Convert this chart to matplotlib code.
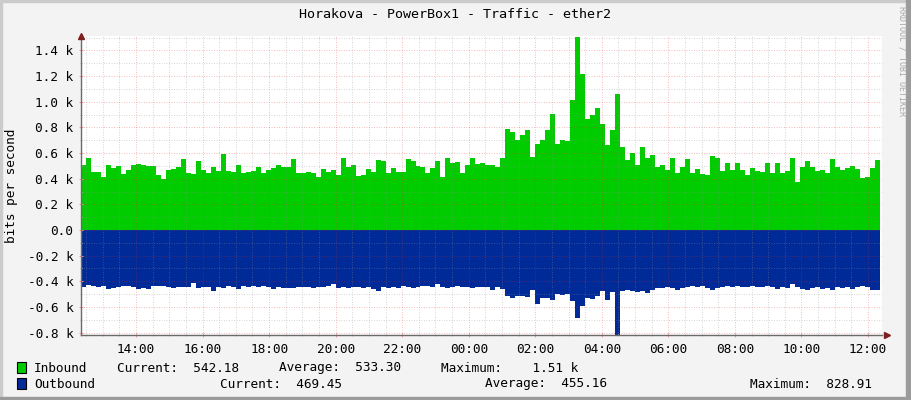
import matplotlib.pyplot as plt
import numpy as np
from matplotlib.patches import Rectangle
from matplotlib.ticker import FixedLocator, MultipleLocator, FuncFormatter

# Data (bits per second), one sample every 9 minutes starting 12:21
inbound = [
    506, 558, 454, 449, 410, 506, 480, 498, 436, 467, 508, 511, 506, 498, 500, 428,
    397, 467, 477, 493, 550, 441, 433, 540, 467, 446, 488, 462, 591, 462, 454, 506,
    441, 454, 462, 493, 441, 467, 480, 506, 493, 493, 550, 446, 446, 451, 441, 410,
    472, 454, 467, 428, 558, 493, 506, 420, 428, 472, 454, 545, 540, 446, 480, 454,
    449, 550, 540, 498, 493, 441, 480, 540, 415, 563, 524, 532, 441, 506, 558, 513,
    519, 506, 506, 493, 558, 791, 765, 700, 739, 778, 571, 674, 700, 778, 907, 674,
    700, 695, 1011, 1509, 1219, 869, 895, 955, 830, 661, 778, 1058, 648, 545, 597, 506,
    648, 558, 584, 493, 506, 467, 565, 446, 493, 550, 441, 472, 436, 428, 576, 565,
    462, 524, 467, 519,
    467, 428, 485, 462, 454, 519, 441, 519, 441, 462, 558, 376, 493, 540, 493, 462,
    467, 441, 550, 493, 467, 480, 498, 472, 402, 410, 480, 542,
]
outbound = [
    441, 428, 436, 441, 436, 459, 454, 441, 436, 433, 441, 462, 454, 462, 433, 436,
    433, 441, 454, 441, 446, 441, 410, 454, 441, 441, 472, 441, 454, 433, 441, 459,
    436, 441, 433, 441, 436, 441, 459, 441, 454, 449, 454, 441, 441, 441, 454, 441,
    441, 433, 420, 454, 441, 454, 441, 441, 454, 441, 459, 472, 441, 454, 441, 454,
    433, 441, 454, 441, 436, 433, 441, 420, 441, 454, 441, 436, 441, 441, 454, 441,
    441, 441, 467, 441, 462, 513, 531, 518, 518, 524, 467, 576, 531, 531, 544, 498,
    506, 498, 557, 687, 596, 531, 539, 518, 472, 549, 480, 829, 472, 467, 472, 480,
    472, 493, 467, 454, 454, 441, 454, 467, 454, 441, 436, 441, 436, 454, 467, 454,
    441, 436, 441, 436,
    441, 441, 436, 441, 441, 436, 441, 462, 441, 454, 420, 441, 459, 467, 454, 441,
    462, 454, 467, 441, 454, 441, 459, 441, 433, 441, 467, 469,
]
hour_ticks = [14, 16, 18, 20, 22, 24, 26, 28, 30, 32, 34, 36]
title = "Horakova - PowerBox1 - Traffic - ether2"

W, H = 911, 400
fig = plt.figure(figsize=(W / 100, H / 100), dpi=100)
fig.patch.set_facecolor('#F3F3F3')
mono = 'DejaVu Sans Mono'

# 3D-ish frame around the image
fig.patches.append(Rectangle((0, 1 - 2 / H), 1, 2 / H, transform=fig.transFigure, color='#CBCBCB', zorder=0))
fig.patches.append(Rectangle((0, 0), 2 / W, 1, transform=fig.transFigure, color='#CBCBCB', zorder=0))
fig.patches.append(Rectangle((1 - 5 / W, 0), 5 / W, 1, transform=fig.transFigure, color='#9B9B9B', zorder=0))
fig.patches.append(Rectangle((0, 0), 1, 3 / H, transform=fig.transFigure, color='#9B9B9B', zorder=0))

ax = fig.add_axes([81 / W, 1 - 335 / H, 801 / W, 299 / H])
ax.set_facecolor('white')

n = len(inbound)
dt = 24 / n
t = 12.35 + np.arange(n + 1) * dt
inb = np.append(inbound, inbound[-1])
outb = -np.append(outbound, outbound[-1])

ax.fill_between(t, 0, inb, step='post', color='#00CC00', lw=0, zorder=1)
ax.fill_between(t, 0, outb, step='post', color='#002A97', lw=0, zorder=1)

ax.set_xlim(12.347, 36.42)
ax.set_ylim(-819, 1513)

# grid over the data, like rrdtool
ax.xaxis.set_major_locator(FixedLocator(hour_ticks))
ax.xaxis.set_minor_locator(MultipleLocator(0.5))
ax.yaxis.set_major_locator(MultipleLocator(200))
ax.yaxis.set_minor_locator(MultipleLocator(100))
ax.set_axisbelow(False)
ax.grid(which='minor', color='#8F8F8F', alpha=0.35, lw=0.72, ls=(0, (1, 1.5)), zorder=3)
ax.grid(which='major', color='#DE3030', alpha=0.3, lw=0.72, ls=(0, (1, 1.5)), zorder=3)

ax.xaxis.set_major_formatter(FuncFormatter(lambda v, p: f"{int(v) % 24:02d}:00"))
ax.yaxis.set_major_formatter(FuncFormatter(
    lambda v, p: "0.0" if abs(v) < 1 else f"{v / 1000:.1f} k"))
ax.tick_params(which='major', length=3, width=0.8, color='#EDA0A0', direction='inout',
               labelsize=9.2, pad=4)
ax.tick_params(which='minor', length=2, width=0.8, color='#CCCCCC', direction='inout')
for lab in ax.get_xticklabels() + ax.get_yticklabels():
    lab.set_fontfamily(mono)

for s in ['top', 'right']:
    ax.spines[s].set_visible(False)
for s in ['left', 'bottom']:
    ax.spines[s].set_color('#6A6A6A')
    ax.spines[s].set_linewidth(1.0)
    ax.spines[s].set_zorder(4)

# arrows
ax.plot([0], [1.0], marker='^', ms=5, color='#7F1F1F', transform=ax.transAxes, clip_on=False, zorder=5)
ax.plot([1 + 5 / 801], [0], marker='>', ms=5, color='#7F1F1F', transform=ax.transAxes, clip_on=False, zorder=5)

fig.text(12 / W, 1 - 186 / H, "bits per second", rotation=90, ha='center', va='center',
         fontfamily=mono, fontsize=9.2)

fig.text(455 / W, 1 - 14 / H, title, ha='center', va='center', fontfamily=mono, fontsize=9.6)
fig.text(902 / W, 1 - 6 / H, "RRDTOOL / TOBI OETIKER", rotation=270, ha='center', va='top',
         fontfamily=mono, fontsize=6, color='#A8A8A8')

# legend
fig.patches.append(Rectangle((17 / W, 1 - 373 / H), 9 / W, 11 / H, transform=fig.transFigure,
                             facecolor='#00CC00', edgecolor='black', lw=0.8))
fig.patches.append(Rectangle((17 / W, 1 - 389 / H), 9 / W, 11 / H, transform=fig.transFigure,
                             facecolor='#002A97', edgecolor='black', lw=0.8))
row1 = [(34, "Inbound"), (117, "Current:  542.18"), (279, "Average:  533.30"), (441, "Maximum:    1.51 k")]
row2 = [(34, "Outbound"), (220, "Current:  469.45"), (485, "Average:  455.16"), (750, "Maximum:  828.91")]
for x, s in row1:
    fig.text(x / W, 1 - 368 / H, s, ha='left', va='center', fontfamily=mono, fontsize=9.2)
for x, s in row2:
    fig.text(x / W, 1 - 384 / H, s, ha='left', va='center', fontfamily=mono, fontsize=9.2)

fig.savefig('out.png', dpi=100, facecolor=fig.get_facecolor())
